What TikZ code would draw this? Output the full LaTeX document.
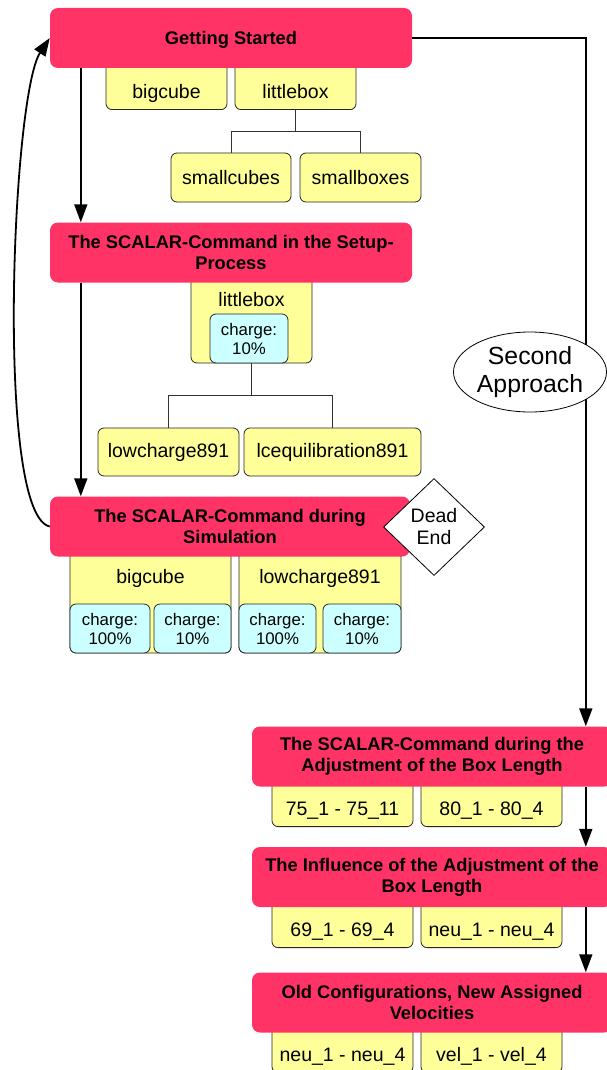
\documentclass[tikz,border=0pt]{standalone}
\usepackage{fontspec}
\setmainfont{Liberation Sans}
\usetikzlibrary{arrows.meta,shapes.geometric}
\definecolor{headred}{RGB}{255,51,102}
\definecolor{itemyellow}{RGB}{255,255,153}
\definecolor{chargecyan}{RGB}{204,255,255}
\newcommand{\hdfont}{\fontsize{18.3}{21}\selectfont\bfseries}
\newcommand{\itmfont}{\fontsize{19.5}{22}\selectfont}
\newcommand{\chgfont}{\fontsize{16.8}{19}\selectfont}

\begin{document}
\begin{tikzpicture}[x=1pt, y=-1pt,
    headbox/.style={fill=headred, rounded corners=8pt, minimum width=362pt, minimum height=60pt, inner sep=0pt, align=center, font=\hdfont},
    itembox/.style={draw=black!85, line width=0.8pt, fill=itemyellow, rounded corners=6pt, minimum height=49pt, inner sep=0pt, font=\itmfont},
    hangbox/.style={itembox, anchor=south, minimum height=48pt, text height=26pt, text depth=0pt},
    chargebox/.style={draw=black!85, line width=0.8pt, fill=chargecyan, rounded corners=6pt, minimum height=49pt, inner sep=0pt, align=center, font=\chgfont},
    holdertitle/.style={font=\itmfont},
    treeline/.style={draw=black!80, line width=0.7pt},
    flowarrow/.style={line width=1.8pt, -{Triangle[length=18pt,width=13pt]}},
    approachoval/.style={ellipse, draw, fill=white, line width=0.8pt, minimum width=153pt, minimum height=80pt, inner sep=0pt, align=center, font=\fontsize{24.8}{28}\selectfont},
    deadendbox/.style={diamond, draw, fill=white, line width=0.8pt, minimum width=101pt, minimum height=97pt, inner sep=0pt, align=center, font=\itmfont},
  ]
  \useasboundingbox (0,0) rectangle (607,1070);
  \clip (0,0) rectangle (607,1070);

  % getting started
  \node[hangbox, minimum width=121pt] (bigcube) at (166.5,110) {bigcube};
  \node[hangbox, minimum width=121pt] (littlebox) at (295.5,110) {littlebox};
  \node[itembox, minimum width=120pt] (smallcubes) at (231,177.5) {smallcubes};
  \node[itembox, minimum width=121pt] (smallboxes) at (360.5,177.5) {smallboxes};
  \node[headbox, text depth=0pt] (start) at (231,38) {Getting Started};

  % setup process
  \node[itembox, minimum width=121pt, minimum height=87pt] (holder1) at (251.5,319.5) {};
  \node[holdertitle] (holder1title) at (251.5,300) {littlebox};
  \node[chargebox, minimum width=78pt] (charge1) at (249,338.5) {charge:\\10\%};
  \node[itembox, minimum width=141pt, minimum height=48pt] (lowcharge) at (168.5,452) {lowcharge891};
  \node[itembox, minimum width=177pt, minimum height=48pt] (lcequil) at (332.5,452) {lcequilibration891};
  \node[headbox] (setup) at (231,252.5) {The SCALAR-Command in the Setup-\\Process};

  % during simulation
  \node[itembox, minimum width=161pt, minimum height=102pt] (holder2) at (150.5,602) {};
  \node[holdertitle] (holder2title) at (150.5,578) {bigcube};
  \node[itembox, minimum width=162pt, minimum height=102pt] (holder3) at (320,602) {};
  \node[holdertitle] (holder3title) at (320,578) {lowcharge891};
  \node[chargebox, minimum width=80pt] (charge2) at (110,628.5) {charge:\\100\%};
  \node[chargebox, minimum width=77pt] (charge3) at (192.5,628.5) {charge:\\10\%};
  \node[chargebox, minimum width=77pt] (charge4) at (277.5,628.5) {charge:\\100\%};
  \node[chargebox, minimum width=78pt] (charge5) at (362,628.5) {charge:\\10\%};
  \node[headbox, minimum width=360pt] (simulation) at (230,526.5) {The SCALAR-Command during\\Simulation};
  \node[deadendbox] (deadend) at (434,527) {Dead\\End};

  % second approach
  \node[hangbox, minimum width=141pt] (range1) at (342.5,827) {75\_1 - 75\_11};
  \node[hangbox, minimum width=141pt] (range2) at (491.5,827) {80\_1 - 80\_4};
  \node[headbox, minimum width=360pt] (adjust) at (432,756.5) {The SCALAR-Command during the\\Adjustment of the Box Length};
  \node[hangbox, minimum width=141pt] (range3) at (342.5,948) {69\_1 - 69\_4};
  \node[hangbox, minimum width=141pt] (range4) at (491.5,948) {neu\_1 - neu\_4};
  \node[headbox, minimum width=360pt] (influence) at (432,877) {The Influence of the Adjustment of the\\Box Length};
  \node[hangbox, minimum width=141pt] (range5) at (342.5,1073) {neu\_1 - neu\_4};
  \node[hangbox, minimum width=141pt] (range6) at (491.5,1073) {vel\_1 - vel\_4};
  \node[headbox, minimum width=360pt] (oldconf) at (432,1002.5) {Old Configurations, New Assigned\\Velocities};

  % tree lines
  \draw[treeline] (littlebox.south) -- ++(0,21) -| (smallcubes.north);
  \draw[treeline] (littlebox.south) -- ++(0,21) -| (smallboxes.north);
  \draw[treeline] (holder1.south) -- ++(0,32) -| (lowcharge.north);
  \draw[treeline] (holder1.south) -- ++(0,32) -| (lcequil.north);

  % arrows
  \draw[flowarrow] ([xshift=31pt]start.south west) -- ([xshift=31pt]setup.north west);
  \draw[flowarrow] ([xshift=31pt]setup.south west) -- ([xshift=31pt]simulation.north west);
  \draw[flowarrow] (simulation.west) .. controls (-5,515) and (12,95) .. (start.west);
  \draw[flowarrow] (start.east) -| ([xshift=334pt]adjust.north west);
  \draw[flowarrow] ([xshift=334pt]adjust.south west) -- ([xshift=334pt]influence.north west);
  \draw[flowarrow] ([xshift=334pt]influence.south west) -- ([xshift=334pt]oldconf.north west);

  \node[approachoval] (approach) at (530,372) {Second\\Approach};
\end{tikzpicture}
\end{document}
